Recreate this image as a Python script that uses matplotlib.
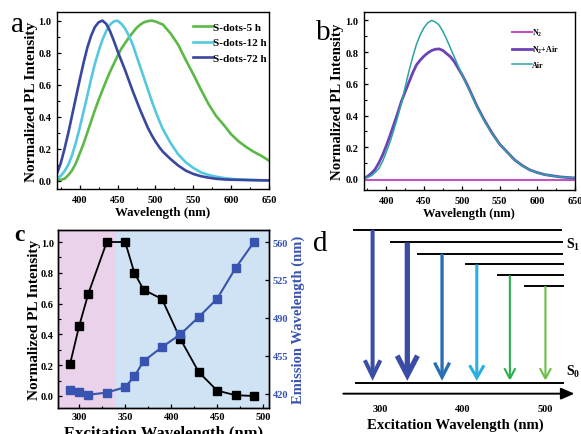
import numpy as np
import matplotlib
matplotlib.use('Agg')
import matplotlib.pyplot as plt
from matplotlib.ticker import MultipleLocator

plt.rcParams['font.family'] = ['Liberation Serif', 'DejaVu Serif']
plt.rcParams['font.weight'] = 'bold'
plt.rcParams['axes.labelweight'] = 'bold'
plt.rcParams['mathtext.fontset'] = 'custom'
plt.rcParams['mathtext.rm'] = 'Liberation Serif:bold'
plt.rcParams['mathtext.bf'] = 'Liberation Serif:bold'
plt.rcParams['mathtext.it'] = 'Liberation Serif:bold:italic'

# ---- panel a: PL spectra of S-dots at different times
wl_a = [370, 375, 380, 385, 390, 395, 400, 405, 410, 415, 420, 425, 430, 435, 440, 445, 450,
        455, 460, 465, 470, 475, 480, 485, 490, 495, 500, 505, 510,
        520, 530, 540, 550, 560, 570, 580, 590, 600, 610, 620, 630, 640, 650]
sdots_5h = [0.005, 0.006, 0.012, 0.035, 0.065, 0.11, 0.17, 0.23, 0.30, 0.37, 0.44, 0.505, 0.565, 0.625, 0.68, 0.73, 0.78,
            0.825, 0.86, 0.895, 0.925, 0.955, 0.975, 0.99, 0.997, 1.0, 0.995, 0.985, 0.975,
            0.92, 0.85, 0.755, 0.665, 0.57, 0.48, 0.405, 0.35, 0.29, 0.245, 0.21, 0.18, 0.155, 0.125]
sdots_12h = [0.013, 0.03, 0.06, 0.10, 0.16, 0.24, 0.33, 0.43, 0.53, 0.635, 0.73, 0.81, 0.88, 0.935, 0.975, 0.995, 1.0,
             0.98, 0.95, 0.905, 0.85, 0.78, 0.71, 0.64, 0.57, 0.50, 0.435, 0.375, 0.32,
             0.235, 0.165, 0.115, 0.08, 0.052, 0.036, 0.025, 0.017, 0.011, 0.008, 0.006, 0.004, 0.003, 0.002]
sdots_72h = [0.045, 0.11, 0.20, 0.30, 0.41, 0.52, 0.63, 0.735, 0.83, 0.905, 0.96, 0.99, 1.0, 0.98, 0.935, 0.875, 0.81,
             0.75, 0.69, 0.625, 0.56, 0.50, 0.44, 0.385, 0.33, 0.285, 0.245, 0.21, 0.18,
             0.135, 0.095, 0.063, 0.042, 0.028, 0.019, 0.012, 0.008, 0.006, 0.005, 0.004, 0.003, 0.002, 0.002]

# ---- panel b: PL under different atmospheres
wl_b = wl_a
n2 = [-0.006] * len(wl_b)
n2_air = [0.006, 0.015, 0.035, 0.06, 0.10, 0.15, 0.21, 0.275, 0.345, 0.415, 0.49, 0.55, 0.61, 0.67, 0.72, 0.75, 0.775,
          0.795, 0.81, 0.818, 0.82, 0.81, 0.79, 0.77, 0.74, 0.70, 0.66, 0.615, 0.565,
          0.46, 0.37, 0.29, 0.22, 0.17, 0.12, 0.085, 0.057, 0.04, 0.027, 0.02, 0.013, 0.009, 0.006]
air = [0.006, 0.01, 0.02, 0.04, 0.065, 0.11, 0.17, 0.235, 0.31, 0.39, 0.48, 0.58, 0.68, 0.77, 0.85, 0.91, 0.955,
       0.985, 1.0, 0.99, 0.97, 0.93, 0.88, 0.825, 0.77, 0.715, 0.66, 0.61, 0.56,
       0.455, 0.365, 0.285, 0.22, 0.168, 0.12, 0.084, 0.056, 0.039, 0.027, 0.019, 0.013, 0.009, 0.006]

# ---- panel c: excitation dependence
ex_wl = [290, 300, 310, 330, 350, 360, 370, 390, 410, 430, 450, 470, 490]
pl_int = [0.205, 0.455, 0.665, 1.0, 1.0, 0.80, 0.69, 0.63, 0.37, 0.155, 0.035, 0.005, 0.0]
em_wl = [423.7, 421.8, 419, 421, 426, 436, 450, 463, 474.8, 490.8, 507.7, 536, 560]
split_wl = 340

# ---- panel d: energy level schematic
level_start = [269, 313, 346, 404, 443, 475]
level_y = [1.0, 0.917, 0.843, 0.773, 0.702, 0.632]
level_end = [519, 520, 520, 521, 521, 521]
arrow_x = [291, 333, 375, 417, 457, 500]
arrow_colors = ['#3a4ea6', '#3a4ca3', '#2a6fb6', '#2aaee3', '#2bb04b', '#6bbe46']
arrow_lw = [2.9, 3.8, 2.4, 2.2, 1.5, 1.5]
arrow_hw = [5.6, 7.3, 5.4, 5.2, 4.0, 4.0]
arrow_hl = [11.5, 14.0, 10.5, 9.0, 7.5, 7.5]

fig = plt.figure(figsize=(5.81, 4.35), dpi=100)

def style_axis(ax, xpad=4.3, ypad=4.0):
    for s in ax.spines.values():
        s.set_linewidth(1.0)
    ax.tick_params(direction='in', which='major', length=3, width=0.9, labelsize=7.5)
    ax.tick_params(axis='x', pad=xpad)
    ax.tick_params(axis='y', pad=ypad)
    ax.tick_params(direction='in', which='minor', length=1.8, width=0.8)

def set_ticks(ax):
    ax.xaxis.set_major_locator(MultipleLocator(50))
    ax.xaxis.set_minor_locator(MultipleLocator(25))
    ax.yaxis.set_major_locator(MultipleLocator(0.2))
    ax.yaxis.set_minor_locator(MultipleLocator(0.1))
    ax.yaxis.set_major_formatter(plt.FormatStrFormatter('%.1f'))

# panel a
ax_a = fig.add_axes([57/581, 1-190/435, 212/581, 177/435])
ax_a.plot(wl_a, sdots_5h, color='#5cb947', lw=1.9, label='S-dots-5 h')
ax_a.plot(wl_a, sdots_12h, color='#55c8df', lw=1.9, label='S-dots-12 h')
ax_a.plot(wl_a, sdots_72h, color='#3a479f', lw=1.9, label='S-dots-72 h')
ax_a.set_xlim(370, 650)
ax_a.set_ylim(-0.052, 1.054)
set_ticks(ax_a)
style_axis(ax_a)
ax_a.set_xlabel('Wavelength (nm)', fontsize=9.3, labelpad=1.5)
ax_a.set_ylabel('Normalized PL Intensity', fontsize=11, labelpad=0.5)
ax_a.legend(loc='upper left', bbox_to_anchor=(0.64, 0.945), frameon=False, fontsize=8,
            handlelength=1.8, handletextpad=0.0, labelspacing=0.55, borderaxespad=0, borderpad=0)

# panel b
ax_b = fig.add_axes([363.7/581, 1-190.7/435, 211.3/581, 177.7/435])
ax_b.plot(wl_b, n2, color='#c253c2', lw=1.5, label='N$_{\\mathrm{2}}$')
ax_b.plot(wl_b, n2_air, color='#6a43b6', lw=2.0, label='N$_{\\mathrm{2}}$+Air')
ax_b.plot(wl_b, air, color='#2aa3a2', lw=1.1, label='Air')
ax_b.set_xlim(370, 650)
ax_b.set_ylim(-0.068, 1.053)
set_ticks(ax_b)
style_axis(ax_b)
ax_b.set_xlabel('Wavelength (nm)', fontsize=9, labelpad=1.5)
ax_b.set_ylabel('Normalized PL Intensity', fontsize=10.7, labelpad=0.5)
ax_b.legend(loc='upper left', bbox_to_anchor=(0.70, 0.915), frameon=False, fontsize=5.8,
            handlelength=2.5, handletextpad=0.0, labelspacing=0.72, borderaxespad=0, borderpad=0)

# panel c
ax_c = fig.add_axes([58/581, 1-409.3/435, 210.7/581, 178.6/435])
ax_c.set_xlim(277, 506)
ax_c.set_ylim(-0.08, 1.08)
ax_c.axvspan(277, split_wl, color='#ead3ea', lw=0, zorder=0)
ax_c.axvspan(split_wl, 506, color='#d0e3f4', lw=0, zorder=0)
ax_c.plot(ex_wl, pl_int, color='black', lw=1.3, marker='s', ms=5.5, zorder=3)
set_ticks(ax_c)
style_axis(ax_c, xpad=2.7, ypad=3.0)
ax_c.set_xlabel('Excitation Wavelength (nm)', fontsize=12, labelpad=2.5)
ax_c.set_ylabel('Normalized PL Intensity', fontsize=11, labelpad=0)
ax_c2 = ax_c.twinx()
ax_c2.plot(ex_wl, em_wl, color='#3953b0', lw=1.5, marker='s', ms=5.5)
ax_c2.set_ylim(406.5, 571.4)
ax_c2.set_yticks([420, 455, 490, 525, 560])
ax_c2.tick_params(direction='in', length=3, width=0.9, labelsize=7.5, pad=3, labelcolor='#3953b0')
ax_c2.set_ylabel('Emission Wavelength (nm)', fontsize=10.5, color='#3953b0', labelpad=2)
for s in ax_c2.spines.values():
    s.set_linewidth(1.0)

# panel d
ax_d = fig.add_axes([330/581, 5/435, 251/581, 208/435])
ax_d.set_xlim(239.5, 543)
ax_d.set_ylim(-0.303, 1.057)
for sp in ['top', 'right', 'left', 'bottom']:
    ax_d.spines[sp].set_visible(False)
ax_d.spines['bottom'].set_position(('data', -0.072))
ax_d.set_yticks([])
ax_d.set_xticks([300, 400, 500])
ax_d.tick_params(axis='x', length=0, labelsize=7.5, pad=7.5)
ax_d.set_xlabel('Excitation Wavelength (nm)', fontsize=10.6, labelpad=3)
for xs, xe, y in zip(level_start, level_end, level_y):
    ax_d.plot([xs, xe], [y, y], color='black', lw=1.4)
ax_d.plot([271, 521], [0, 0], color='black', lw=1.4)
ax_d.annotate('', xy=(535, -0.072), xytext=(255.6, -0.072),
              arrowprops=dict(arrowstyle='-|>,head_length=0.8,head_width=0.35', color='black',
                              lw=1.4, shrinkA=0, shrinkB=0, mutation_scale=10))
for x, y, c, lw, hw, hl in zip(arrow_x, level_y, arrow_colors, arrow_lw, arrow_hw, arrow_hl):
    ax_d.annotate('', xy=(x, 0.012), xytext=(x, y),
                  arrowprops=dict(arrowstyle=f'->,head_length={hl},head_width={hw}', color=c,
                                  lw=lw, shrinkA=0, shrinkB=0, mutation_scale=1,
                                  joinstyle='miter', capstyle='butt'))
ax_d.text(525, 0.91, 'S$_{\\mathrm{1}}$', fontsize=10, va='center', ha='left')
ax_d.text(525, 0.075, 'S$_{\\mathrm{0}}$', fontsize=10, va='center', ha='left')

# panel letters
fig.text(17/581, 1-32/435, 'a', fontsize=21, fontweight='normal', ha='center', va='baseline')
fig.text(323/581, 1-40/435, 'b', fontsize=21, fontweight='normal', ha='center', va='baseline')
fig.text(19/581, 1-241/435, 'c', fontsize=17, fontweight='bold', ha='center', va='baseline')
fig.text(320/581, 1-251/435, 'd', fontsize=21, fontweight='normal', ha='center', va='baseline')

fig.savefig('out.png', dpi=100)
